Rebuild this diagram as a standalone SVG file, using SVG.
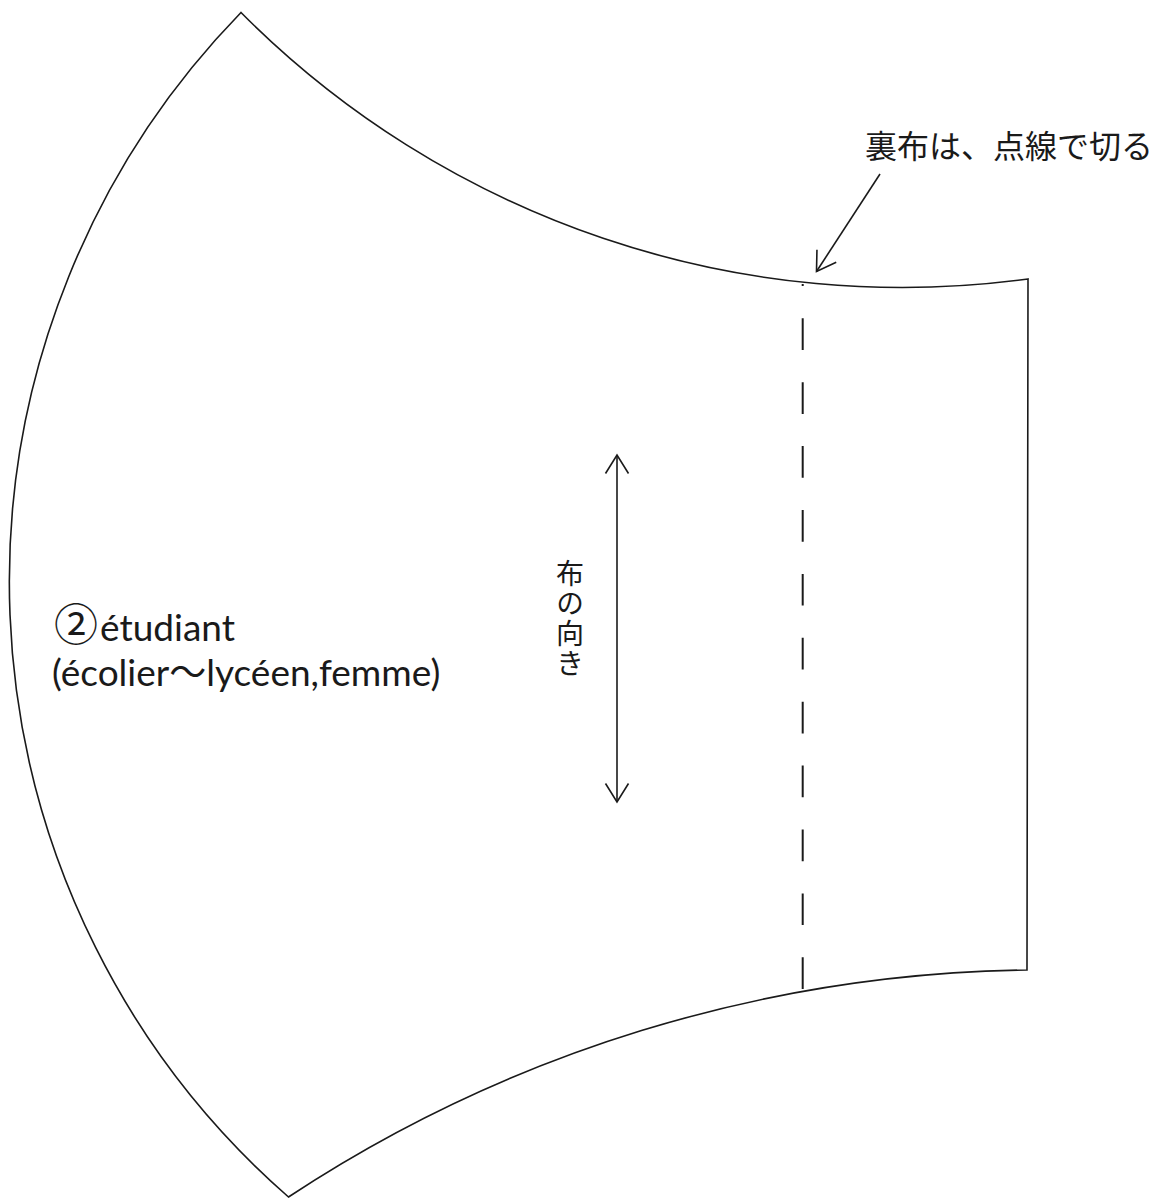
<svg xmlns="http://www.w3.org/2000/svg" width="1156" height="1198" viewBox="0 0 1156 1198">
<style>
.edge{fill:none;stroke:#1a1a1a;stroke-width:1.6;stroke-linejoin:miter}
.dash{fill:none;stroke:#1a1a1a;stroke-width:2;stroke-dasharray:31.7 32.2;stroke-dashoffset:29.6}
.arr{fill:none;stroke:#1a1a1a;stroke-width:1.6}
.jp{font-family:"Noto Sans CJK JP","Noto Sans CJK SC",sans-serif;fill:#1a1a1a}
.lat{font-family:Lato,"Noto Sans CJK JP",sans-serif;fill:#1a1a1a}
.vert{writing-mode:vertical-rl;letter-spacing:2px}
</style>
<defs>
<marker id="chev" markerUnits="userSpaceOnUse" markerWidth="24" markerHeight="26" viewBox="-21 -13 24 26" refX="0" refY="0" orient="auto-start-reverse" overflow="visible">
<path d="M-18.5,-11.5 L0,0 L-18.5,11.5" fill="none" stroke="#1a1a1a" stroke-width="1.6"/>
</marker>
</defs>
<rect width="1156" height="1198" fill="#fff"/>
<g id="pattern">
<path class="edge" d="M241,12.5 A932,932 0 0 0 1028,279 L1027,970 A1375.6,1375.6 0 0 0 288.5,1197 A816.5,816.5 0 0 1 241,12.5 Z"/>
<line class="dash" x1="802.7" y1="284" x2="802.7" y2="991"/>
</g>
<g id="connectors">
<line class="arr" x1="617" y1="455" x2="617" y2="802" marker-start="url(#chev)" marker-end="url(#chev)"/>
<line class="arr" x1="880" y1="174" x2="816.5" y2="271.5" marker-end="url(#chev)"/>
</g>
<g id="label-cut">
<text class="jp" x="865" y="158" font-size="32">裏布は、点線で切る</text>
</g>
<g id="label-grain">
<text class="jp vert" x="570" y="559" font-size="28">布の向き</text>
</g>
<g id="label-size">
<text class="lat" x="54" y="641" font-size="37"><tspan font-family="Noto Sans CJK JP, sans-serif" font-size="44">②</tspan><tspan dx="2">étudiant</tspan></text>
<text class="lat" x="52" y="686" font-size="37">(écolier〜lycéen,femme)</text>
</g>
</svg>
